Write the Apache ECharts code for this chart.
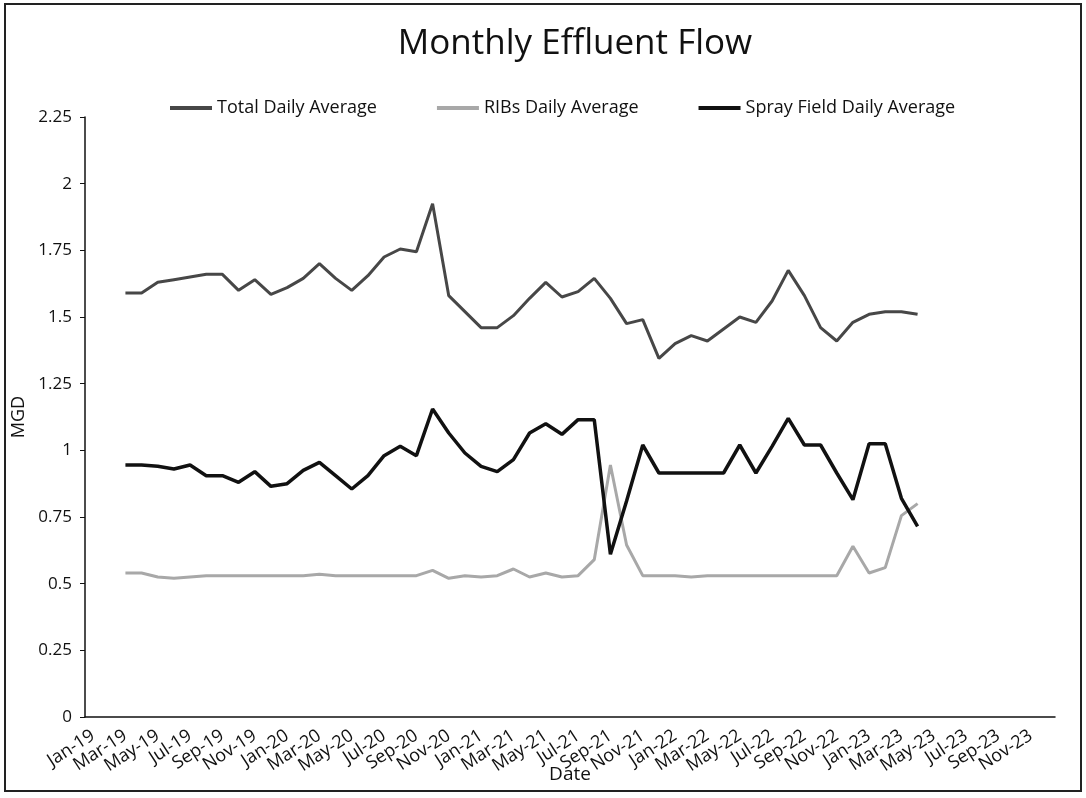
<!DOCTYPE html>
<html lang="en">
<head>
    <meta charset="UTF-8">
    <title>Monthly Effluent Flow</title>
    <script src="https://cdn.jsdelivr.net/npm/echarts@6/dist/echarts.min.js"></script>
</head>
<body style="margin:0;background:#fff;">
    <div id="main" style="position:absolute;left:0;top:0;width:1086px;height:798px"></div>
    <script>
        var months = ['Jan-19','Feb-19','Mar-19','Apr-19','May-19','Jun-19','Jul-19','Aug-19','Sep-19','Oct-19','Nov-19','Dec-19',
            'Jan-20','Feb-20','Mar-20','Apr-20','May-20','Jun-20','Jul-20','Aug-20','Sep-20','Oct-20','Nov-20','Dec-20',
            'Jan-21','Feb-21','Mar-21','Apr-21','May-21','Jun-21','Jul-21','Aug-21','Sep-21','Oct-21','Nov-21','Dec-21',
            'Jan-22','Feb-22','Mar-22','Apr-22','May-22','Jun-22','Jul-22','Aug-22','Sep-22','Oct-22','Nov-22','Dec-22',
            'Jan-23','Feb-23','Mar-23','Apr-23','May-23','Jun-23','Jul-23','Aug-23','Sep-23','Oct-23','Nov-23','Dec-23'];

        // MGD, Jan-19 .. Dec-23 (no readings for the first two and last eight months)
        var totalAvg = [null, null,
            1.59, 1.59, 1.63, 1.64, 1.65, 1.66, 1.66, 1.60, 1.64, 1.585,
            1.61, 1.645, 1.70, 1.645, 1.60, 1.655, 1.725, 1.755, 1.745, 1.925, 1.58, 1.52,
            1.46, 1.46, 1.505, 1.57, 1.63, 1.575, 1.595, 1.645, 1.57, 1.475, 1.49, 1.345,
            1.40, 1.43, 1.41, 1.455, 1.50, 1.48, 1.56, 1.675, 1.58, 1.46, 1.41, 1.48,
            1.51, 1.52, 1.52, 1.51,
            null, null, null, null, null, null, null, null];
        var ribsAvg = [null, null,
            0.54, 0.54, 0.525, 0.52, 0.525, 0.53, 0.53, 0.53, 0.53, 0.53,
            0.53, 0.53, 0.535, 0.53, 0.53, 0.53, 0.53, 0.53, 0.53, 0.55, 0.52, 0.53,
            0.525, 0.53, 0.555, 0.525, 0.54, 0.525, 0.53, 0.59, 0.945, 0.645, 0.53, 0.53,
            0.53, 0.525, 0.53, 0.53, 0.53, 0.53, 0.53, 0.53, 0.53, 0.53, 0.53, 0.64,
            0.54, 0.56, 0.755, 0.80,
            null, null, null, null, null, null, null, null];
        var sprayAvg = [null, null,
            0.945, 0.945, 0.94, 0.93, 0.945, 0.905, 0.905, 0.88, 0.92, 0.865,
            0.875, 0.925, 0.955, 0.905, 0.855, 0.905, 0.98, 1.015, 0.98, 1.155, 1.065, 0.99,
            0.94, 0.92, 0.965, 1.065, 1.10, 1.06, 1.115, 1.115, 0.61, 0.81, 1.02, 0.915,
            0.915, 0.915, 0.915, 0.915, 1.02, 0.915, 1.015, 1.12, 1.02, 1.02, 0.915, 0.815,
            1.025, 1.025, 0.82, 0.715,
            null, null, null, null, null, null, null, null];

        var font = "'Open Sans', 'Liberation Sans', sans-serif";
        var chart = echarts.init(document.getElementById('main'));

        function line(name, data, color, width) {
            return {
                name: name,
                type: 'line',
                data: data,
                symbol: 'none',
                connectNulls: false,
                lineStyle: { color: color, width: width },
                itemStyle: { color: color }
            };
        }

        chart.setOption({
            animation: false,
            backgroundColor: '#fff',
            textStyle: { fontFamily: font, color: '#111' },
            graphic: [{
                type: 'rect',
                shape: { x: 5, y: 4, width: 1076, height: 787 },
                style: { fill: 'none', stroke: '#222', lineWidth: 2 },
                silent: true
            }],
            title: {
                text: 'Monthly Effluent Flow',
                left: 570,
                textAlign: 'center',
                top: 22,
                textStyle: { fontFamily: font, fontSize: 35, fontWeight: 'normal', color: '#111' }
            },
            legend: {
                top: 94,
                left: 165,
                itemGap: 60,
                itemWidth: 42,
                itemHeight: 4,
                icon: 'rect',
                textStyle: { fontFamily: font, fontSize: 18, color: '#111' },
                data: ['Total Daily Average', 'RIBs Daily Average', 'Spray Field Daily Average']
            },
            grid: { left: 85, right: 31, top: 117, bottom: 81, containLabel: false },
            xAxis: {
                type: 'category',
                data: months,
                boundaryGap: true,
                name: 'Date',
                nameLocation: 'middle',
                nameGap: 48,
                nameMoveOverlap: false,
                nameTextStyle: { fontFamily: font, fontSize: 19, color: '#111' },
                axisLine: { lineStyle: { color: '#111', width: 1.5 } },
                axisTick: { interval: 1, inside: true, length: 5, lineStyle: { color: '#111' } },
                axisLabel: {
                    interval: 0,
                    // every other month is labelled, as in the source chart
                    formatter: function (v, i) { return i % 2 === 0 ? v : ''; },
                    rotate: 33,
                    hideOverlap: false,
                    fontFamily: font,
                    fontSize: 18,
                    color: '#111',
                    margin: 17
                },
                splitLine: { show: false }
            },
            yAxis: {
                type: 'value',
                min: 0,
                max: 2.25,
                interval: 0.25,
                name: 'MGD',
                nameLocation: 'middle',
                nameGap: 57,
                nameTextStyle: { fontFamily: font, fontSize: 18, color: '#111' },
                axisLine: { show: true, lineStyle: { color: '#111', width: 1.5 } },
                axisTick: { show: true, length: 5, lineStyle: { color: '#111' } },
                axisLabel: { fontFamily: font, fontSize: 17, color: '#111', margin: 13 },
                splitLine: { show: false }
            },
            series: [
                line('Total Daily Average', totalAvg, '#474747', 3),
                line('RIBs Daily Average', ribsAvg, '#a8a8a8', 3),
                line('Spray Field Daily Average', sprayAvg, '#111111', 3.5)
            ]
        });
    </script>
</body>
</html>
